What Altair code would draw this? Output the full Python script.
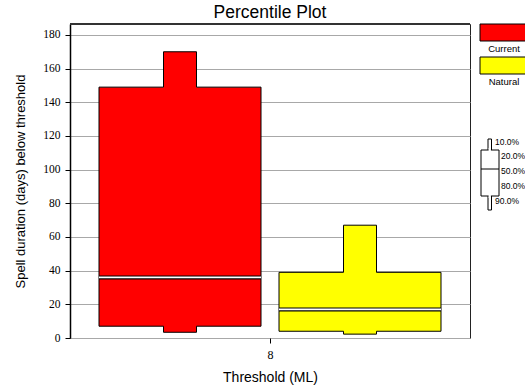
import altair as alt
import pandas as pd

# ---- data ----
series = ["Current", "Natural"]
colors = ["#ff0000", "#ffff00"]
p10 = [170, 67]
p20 = [149, 39]
p50 = [36, 17]
p80 = [7, 4]
p90 = [3.4, 2.3]
threshold_label = "8"
y_ticks = [0, 20, 40, 60, 80, 100, 120, 140, 160, 180]
pct_labels = ["10.0%", "20.0%", "50.0%", "80.0%", "90.0%"]

# ---- layout ----
W, H = 400, 314
Y_MAX = 186.5
GAP, BOX_W, NARROW_W = 0.045, 0.81, 0.165
FONT = "Liberation Sans Narrow"
FONT2 = "Liberation Sans"

rows, poly = [], []
for i, s in enumerate(series):
    sign = -1 if i == 0 else 1
    a, b = sign * GAP, sign * (GAP + BOX_W)
    x0, x1 = min(a, b), max(a, b)
    c = (x0 + x1) / 2
    n0, n1 = c - NARROW_W / 2, c + NARROW_W / 2
    rows.append(dict(series=s, x0=x0, x1=x1, n0=n0, n1=n1,
                     p10=p10[i], p20=p20[i], p50=p50[i], p80=p80[i], p90=p90[i]))
    pts = [(x0, p80[i]), (x0, p20[i]), (n0, p20[i]), (n0, p10[i]), (n1, p10[i]),
           (n1, p20[i]), (x1, p20[i]), (x1, p80[i]), (n1, p80[i]), (n1, p90[i]),
           (n0, p90[i]), (n0, p80[i]), (x0, p80[i])]
    for k, (px, py) in enumerate(pts):
        poly.append(dict(series=s, k=k, px=px, py=py))

df = pd.DataFrame(rows)
dpoly = pd.DataFrame(poly)
one = pd.DataFrame({"d": [0]})

xs = alt.Scale(domain=[-1, 1])
ys = alt.Scale(domain=[0, Y_MAX], nice=False, zero=True)
col = alt.Color("series:N", scale=alt.Scale(domain=series, range=colors), legend=None)

x_axis = alt.Axis(
    values=[0], labelExpr=f"'{threshold_label}'", title="Threshold (ML)", grid=False,
    tickSize=5, labelFontSize=12, labelFont=FONT, titleFont=FONT2, titleFontSize=14,
    titleFontWeight="normal", labelPadding=6, titlePadding=10, domain=False,
    labelColor="#000000", titleColor="#000000", tickColor="#000000")
y_axis = alt.Axis(
    values=y_ticks, title="Spell duration (days) below threshold", grid=True,
    gridColor="#a8a8a8", gridWidth=1, tickSize=5, labelFontSize=11.5, labelFont=FONT,
    titleFont=FONT2, titleFontSize=13, titleFontWeight="normal", titlePadding=15,
    labelPadding=5, domainColor="#000000", domainWidth=1.5,
    labelColor="#000000", titleColor="#000000", tickColor="#000000")

base = alt.Chart(df)

wide = base.mark_rect(strokeWidth=0).encode(
    x=alt.X("x0:Q", scale=xs, axis=x_axis), x2="x1:Q",
    y=alt.Y("p80:Q", scale=ys, axis=y_axis), y2="p20:Q",
    color=col,
)

narrow = base.mark_rect(strokeWidth=0).encode(
    x=alt.X("n0:Q", scale=xs, axis=x_axis), x2="n1:Q",
    y=alt.Y("p90:Q", scale=ys, axis=y_axis), y2="p10:Q",
    color=col,
)

outline = alt.Chart(dpoly).mark_line(color="#000000", strokeWidth=1).encode(
    x=alt.X("px:Q", scale=xs, axis=x_axis),
    y=alt.Y("py:Q", scale=ys, axis=y_axis),
    detail="series:N",
    order=alt.Order("k:Q"),
)

med_black = base.mark_rule(color="#000000", strokeWidth=4).encode(
    x=alt.X("x0:Q", scale=xs, axis=x_axis), x2="x1:Q",
    y=alt.Y("p50:Q", scale=ys, axis=y_axis),
)
med_white = base.mark_rule(color="#ffffff", strokeWidth=1.6).encode(
    x=alt.X("x0:Q", scale=xs, axis=x_axis), x2="x1:Q",
    y=alt.Y("p50:Q", scale=ys, axis=y_axis),
)

top_rule = alt.Chart(one).mark_rule(color="#333333", strokeWidth=2).encode(
    x=alt.value(0), x2=alt.value(W), y=alt.value(0))

# ---- legend (pixel layout, right of plot) ----
legend_layers = []
for i, s in enumerate(series):
    ly = i * 33
    legend_layers.append(alt.Chart(one).mark_rect(
        stroke="#000000", strokeWidth=1, fill=colors[i]).encode(
        x=alt.value(410), x2=alt.value(462), y=alt.value(ly), y2=alt.value(ly + 17)))
    legend_layers.append(alt.Chart(one).mark_text(
        font=FONT2, fontSize=9.5, color="#000000", align="center", baseline="middle").encode(
        x=alt.value(434), y=alt.value(ly + 25), text=alt.value(s)))

glyph_n = alt.Chart(one).mark_rect(fill="#ffffff", stroke="#000000", strokeWidth=1).encode(
    x=alt.value(418), x2=alt.value(421.5), y=alt.value(115), y2=alt.value(186))
glyph_w = alt.Chart(one).mark_rect(fill="#ffffff", stroke="#000000", strokeWidth=1).encode(
    x=alt.value(411), x2=alt.value(429), y=alt.value(126), y2=alt.value(172))
glyph_fill = alt.Chart(one).mark_rect(fill="#ffffff", strokeWidth=0).encode(
    x=alt.value(418.6), x2=alt.value(420.9), y=alt.value(124), y2=alt.value(174))
glyph_m = alt.Chart(one).mark_rule(color="#000000", strokeWidth=1).encode(
    x=alt.value(411), x2=alt.value(429), y=alt.value(145))

pct_x = [425, 431, 431, 431, 425]
pct_y = [118, 132, 147, 162, 177]
for lab, lx, lyy in zip(pct_labels, pct_x, pct_y):
    legend_layers.append(alt.Chart(one).mark_text(
        font=FONT2, fontSize=8.5, color="#000000", align="left", baseline="middle").encode(
        x=alt.value(lx), y=alt.value(lyy), text=alt.value(lab)))

chart = alt.layer(
    wide, narrow, outline, med_black, med_white, top_rule,
    glyph_n, glyph_w, glyph_fill, glyph_m, *legend_layers,
).properties(
    width=W, height=H,
    title=alt.TitleParams("Percentile Plot", font=FONT2, fontSize=17.5,
                          fontWeight="normal", offset=2, anchor="middle", color="#000000"),
    padding={"left": 70, "top": 24, "right": 55, "bottom": 51},
    autosize=alt.AutoSizeParams(type="none"),
    background="#ffffff",
).configure_view(
    stroke="#222222", strokeWidth=1
)

chart.save("out.html", embed_options={"renderer": "svg", "actions": False})
